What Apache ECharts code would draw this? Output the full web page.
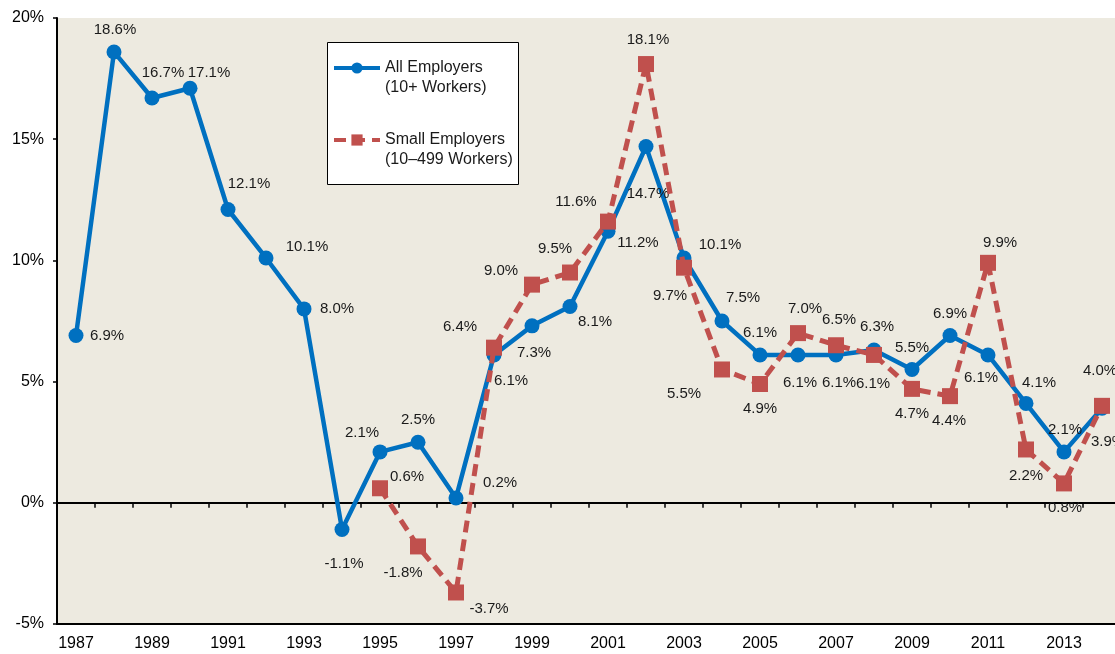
<!DOCTYPE html>
<html><head><meta charset="utf-8">
<script src="https://cdn.jsdelivr.net/npm/echarts@6/dist/echarts.min.js"></script>
<style>html,body{margin:0;padding:0;background:#fff;overflow:hidden;width:1115px;height:654px}#c{width:1125px;height:654px}</style>
</head><body><div id="c"></div>
<script>
// ---- data ----
const years = ['1987','1988','1989','1990','1991','1992','1993','1994','1995','1996','1997','1998','1999','2000',
  '2001','2002','2003','2004','2005','2006','2007','2008','2009','2010','2011','2012','2013','2014'];
const allEmployers = [6.9,18.6,16.7,17.1,12.1,10.1,8.0,-1.1,2.1,2.5,0.2,6.1,7.3,8.1,
  11.2,14.7,10.1,7.5,6.1,6.1,6.1,6.3,5.5,6.9,6.1,4.1,2.1,3.9];
const smallEmployers = [null,null,null,null,null,null,null,null,0.6,-1.8,-3.7,6.4,9.0,9.5,
  11.6,18.1,9.7,5.5,4.9,7.0,6.5,6.1,4.7,4.4,9.9,2.2,0.8,4.0];
const yMin = -5, yMax = 20, yStep = 5;
const seriesNames = ['All Employers', 'Small Employers'];
const legendLabels = [' \nAll Employers\n(10+ Workers)', ' \nSmall Employers\n(10\u2013499 Workers)'];

// ---- label placement (offsets from the point, px) ----
const allLabelOffsets = [[31,0],[1,-22],[11,-25],[19,-15],[21,-26],[41,-11],[33,0],[2,34],[-18,-19],[0,-22],[44,-15],[17,26],[2,27],[25,15],
  [30,12],[2,47],[36,-13],[21,-23],[0,-22],[2,28],[3,28],[3,-23],[0,-22],[0,-22],[-7,23],[13,-21],[1,-22],[6,34]];
const smallLabelOffsets = [null,null,null,null,null,null,null,null,[27,-11],[-15,26],[33,16],[-34,-21],[-31,-14],[-15,-24],
  [-32,-20],[2,-24],[-14,28],[-38,24],[0,25],[7,-24],[3,-25],[-1,29],[0,25],[-1,25],[12,-20],[0,26],[1,24],[-2,-35]];

const FONT = '"Liberation Sans", Arial, sans-serif';
const BLUE = '#0070C0', RED = '#C0504D';

function withLabels(vals, offs) {
  return vals.map((v, i) => v == null ? null : ({ value: v, label: { offset: offs[i] } }));
}

const chart = echarts.init(document.getElementById('c'), null, { renderer: 'canvas' });
chart.setOption({
  animation: false,
  backgroundColor: '#fff',
  grid: { left: 57, top: 18, width: 1064, height: 606, show: true, backgroundColor: '#EDEAE0', borderWidth: 0 },
  graphic: [{
    type: 'rect', left: 327, top: 42, z: 3,
    shape: { width: 191, height: 142 },
    style: { fill: '#fff', stroke: '#000', lineWidth: 1 }
  }],
  legend: {
    orient: 'vertical', left: 332, top: 38, padding: 0, itemGap: 12,
    itemWidth: 46, itemHeight: 14, z: 5,
    data: seriesNames,
    lineStyle: { width: 4 },
    formatter: n => legendLabels[seriesNames.indexOf(n)],
    textStyle: { fontFamily: FONT, fontSize: 16, color: '#1a1a1a', lineHeight: 20 }
  },
  xAxis: [
    {
      type: 'category', data: years, boundaryGap: true, position: 'bottom',
      axisLine: { onZero: false, lineStyle: { color: '#000', width: 2 } },
      axisTick: { show: false },
      axisLabel: { interval: 1, color: '#000', fontSize: 16, fontFamily: FONT, margin: 12 },
      splitLine: { show: false }
    },
    {
      type: 'category', data: years, boundaryGap: true, position: 'bottom',
      axisLine: { onZero: true, lineStyle: { color: '#000', width: 2 } },
      axisTick: { show: true, interval: 0, length: 5, lineStyle: { color: '#000', width: 1.5 } },
      axisLabel: { show: false },
      splitLine: { show: false }
    }
  ],
  yAxis: {
    type: 'value', min: yMin, max: yMax, interval: yStep,
    axisLine: { show: true, onZero: false, lineStyle: { color: '#000', width: 2 } },
    axisTick: { show: true, length: 4, lineStyle: { color: '#000', width: 1.5 } },
    axisLabel: { formatter: '{value}%', color: '#000', fontSize: 16, fontFamily: FONT, margin: 13 },
    splitLine: { show: false }
  },
  series: [
    {
      name: seriesNames[0], type: 'line', xAxisIndex: 0,
      data: withLabels(allEmployers, allLabelOffsets),
      symbol: 'circle', symbolSize: 15, z: 3,
      lineStyle: { color: BLUE, width: 4.5 },
      itemStyle: { color: BLUE },
      label: { show: true, position: 'inside', formatter: p => p.value.toFixed(1) + '%',
        color: '#1a1a1a', fontSize: 15, fontFamily: FONT }
    },
    {
      name: seriesNames[1], type: 'line', xAxisIndex: 0,
      data: withLabels(smallEmployers, smallLabelOffsets),
      symbol: 'rect', symbolSize: 16, z: 4,
      lineStyle: { color: RED, width: 5, type: [12, 7] },
      itemStyle: { color: RED },
      label: { show: true, position: 'inside', formatter: p => p.value.toFixed(1) + '%',
        color: '#1a1a1a', fontSize: 15, fontFamily: FONT }
    }
  ]
});
</script></body></html>
